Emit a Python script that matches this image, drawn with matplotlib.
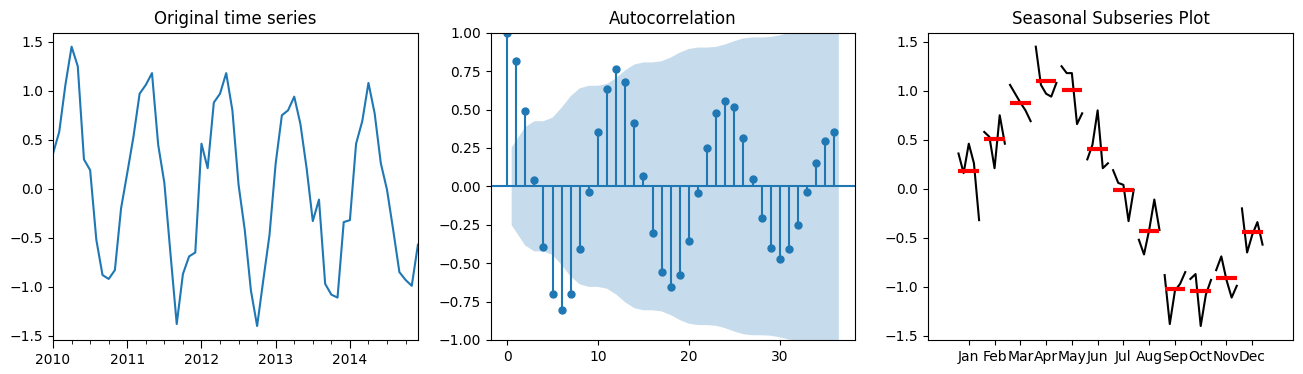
import numpy as np
import matplotlib
matplotlib.use("Agg")
import matplotlib.pyplot as plt

# monthly values, 2010-01 .. 2014-12
years = [2010, 2011, 2012, 2013, 2014]
months = ["Jan", "Feb", "Mar", "Apr", "May", "Jun",
          "Jul", "Aug", "Sep", "Oct", "Nov", "Dec"]
y2010 = [0.36, 0.58, 1.06, 1.45, 1.25, 0.30, 0.19, -0.52, -0.88, -0.92, -0.83, -0.20]
y2011 = [0.16, 0.53, 0.97, 1.06, 1.18, 0.45, 0.06, -0.67, -1.38, -0.87, -0.69, -0.65]
y2012 = [0.46, 0.21, 0.88, 0.97, 1.18, 0.80, 0.04, -0.42, -1.04, -1.40, -0.93, -0.47]
y2013 = [0.26, 0.75, 0.80, 0.94, 0.66, 0.21, -0.33, -0.11, -0.97, -1.08, -1.11, -0.34]
y2014 = [-0.32, 0.46, 0.69, 1.08, 0.77, 0.26, -0.01, -0.42, -0.85, -0.93, -0.99, -0.57]

# autocorrelation, lags 0..36
acf_vals = [1.0, 0.814, 0.489, 0.041, -0.394, -0.699, -0.803, -0.699, -0.407, -0.037,
            0.353, 0.632, 0.762, 0.677, 0.411, 0.067, -0.303, -0.556, -0.654, -0.576,
            -0.355, -0.043, 0.249, 0.476, 0.558, 0.515, 0.314, 0.048, -0.206, -0.400,
            -0.472, -0.407, -0.251, -0.037, 0.152, 0.294, 0.353]

series = np.array(y2010 + y2011 + y2012 + y2013 + y2014)
n = len(series)
t = np.arange(n)

fig, axes = plt.subplots(1, 3, figsize=(13.03, 3.74), dpi=100)
fig.subplots_adjust(left=0.0407, right=0.9923, bottom=0.091, top=0.9126, wspace=0.199)

# --- original series
ax = axes[0]
ax.plot(t, series, color="C0")
ax.set_xlim(0, n - 1)
ax.set_xticks(np.arange(0, n, 12))
ax.set_xticklabels([str(y) for y in years])
ax.set_xticks(np.arange(0, n, 3), minor=True)
ax.tick_params(axis="x", which="major", length=6)
ax.tick_params(axis="x", which="minor", length=3)
ax.set_title("Original time series")

# --- autocorrelation
ax = axes[1]
acf = np.array(acf_vals)
lags = np.arange(len(acf))
# Bartlett band, same as statsmodels
varacf = np.ones(len(acf)) / n
varacf[0] = 0
varacf[2:] *= 1 + 2 * np.cumsum(acf[1:-1] ** 2)
band = 1.96 * np.sqrt(varacf)
bl = lags[1:].astype(float)
bl[0] -= 0.5
bl[-1] += 0.5
ax.fill_between(bl, -band[1:], band[1:], alpha=0.25, linewidth=0)
ax.vlines(lags, 0, acf, color="C0")
ax.axhline(0, color="C0")
ax.plot(lags, acf, "o", color="C0", markersize=5)
ax.margins(0.05)
ax.set_ylim(-1, 1)
ax.set_title("Autocorrelation")

# --- seasonal subseries
ax = axes[2]
by_year = np.array([y2010, y2011, y2012, y2013, y2014])
start = 0
ticks = []
for m in range(12):
    vals = by_year[:, m]
    xs = np.arange(start, start + len(vals))
    ticks.append(xs.mean())
    ax.plot(xs, vals, "k")
    ax.hlines(vals.mean(), xs[0], xs[-1], colors="r", linewidth=3)
    start += len(vals)
ax.set_xticks(ticks)
ax.set_xticklabels(months)
ax.margins(0.1, 0.05)
ax.set_title("Seasonal Subseries Plot")

fig.savefig("out.png", dpi=100)
